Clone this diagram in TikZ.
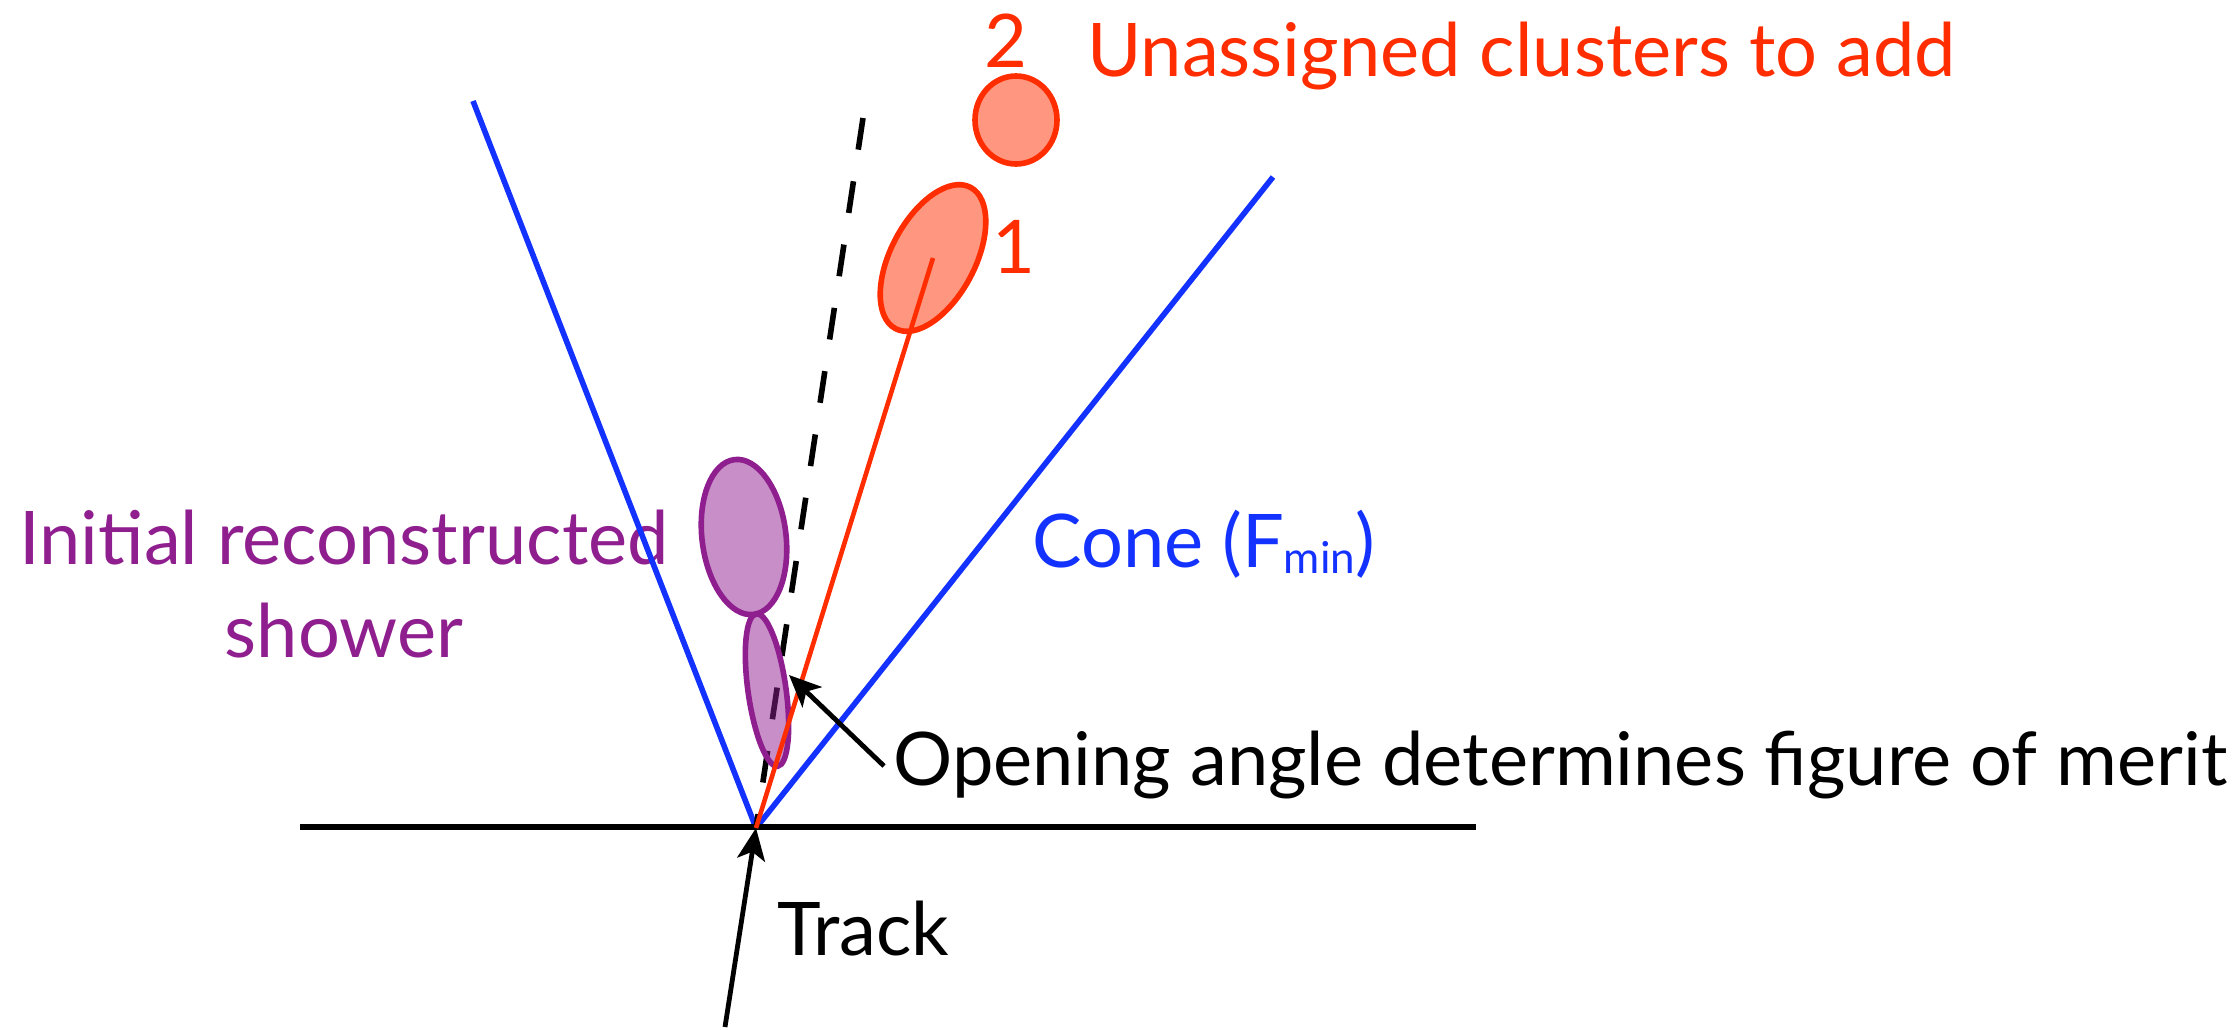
\documentclass[tikz,border=0pt]{standalone}
\usepackage{fontspec}
\setmainfont{Lato}
\usetikzlibrary{arrows.meta,shapes.geometric}
\definecolor{coneblue}{RGB}{20,50,255}
\definecolor{clred}{RGB}{255,45,0}
\definecolor{shpurple}{RGB}{143,30,143}
\tikzset{
  lbl/.style={inner sep=0pt, font=\fontsize{37pt}{41pt}\selectfont},
  conel/.style={line width=2.8pt, coneblue},
  blob/.style={ellipse, inner sep=0pt, line width=2.8pt},
  redblob/.style={blob, draw=clred, fill=clred, fill opacity=0.5},
  purpleblob/.style={blob, draw=shpurple, fill=shpurple, fill opacity=0.5},
  pointer/.style={line width=2.4pt, black, -{Stealth[length=16pt,width=14pt,inset=4pt]}}
}
\begin{document}
\begin{tikzpicture}[x=0.5pt,y=-0.5pt]
\useasboundingbox (0,0) rectangle (2239,1029);
% key points
\coordinate (v) at (756,828);
\coordinate (lt) at (473,101);
\coordinate (rt) at (1273,177);
\coordinate (dt) at (863,118);
\coordinate (hl) at (300,827);
\coordinate (hr) at (1476,827);
\coordinate (trk) at (725,1027);
\coordinate (ot) at (884,766);
\coordinate (oh) at (789,675);
% labels
\node[lbl, text=clred, anchor=base west] (two) at (984,67) {2};
\node[lbl, text=clred, anchor=base west] (unas) at (1087,76) {Unassigned clusters to add};
\node[lbl, text=clred, anchor=base] (one) at (1014,273) {1};
\node[lbl, text=shpurple, anchor=base] (init1) at (344,564) {Initial reconstructed};
\node[lbl, text=shpurple, anchor=base] (init2) at (344,657) {shower};
\node[lbl, text=coneblue, anchor=base west] (cone) at (1032,567) {Cone (F\raisebox{-3pt}{\fontsize{22pt}{24pt}\selectfont min})};
\node[lbl, anchor=base west] (open) at (893,785) {Opening angle determines figure of merit};
\node[lbl, anchor=base west] (track) at (777,955) {Track};
% cone
\draw[conel] (v) -- (lt);
\draw[conel] (v) -- (rt);
% dashed axis
\draw[line width=2.8pt, dash pattern=on 16pt off 16pt] (dt) -- (v);
% horizontal line
\draw[line width=2.8pt] (hl) -- (hr);
% initial shower
\node[purpleblob, minimum width=42pt, minimum height=78pt, rotate=7] (s1) at (744,537) {};
\node[purpleblob, minimum width=19pt, minimum height=77pt, rotate=8] (s2) at (767,690) {};
% clusters
\node[redblob, minimum width=42pt, minimum height=80pt, rotate=-28] (c1) at (933,258) {};
\node[redblob, minimum width=41pt, minimum height=44pt] (c2) at (1016,120) {};
% red line
\draw[line width=2.3pt, clred] (v) -- (c1.center);
% arrows
\draw[pointer] (ot) -- (oh);
\draw[pointer] (trk) -- (v);
\end{tikzpicture}
\end{document}
